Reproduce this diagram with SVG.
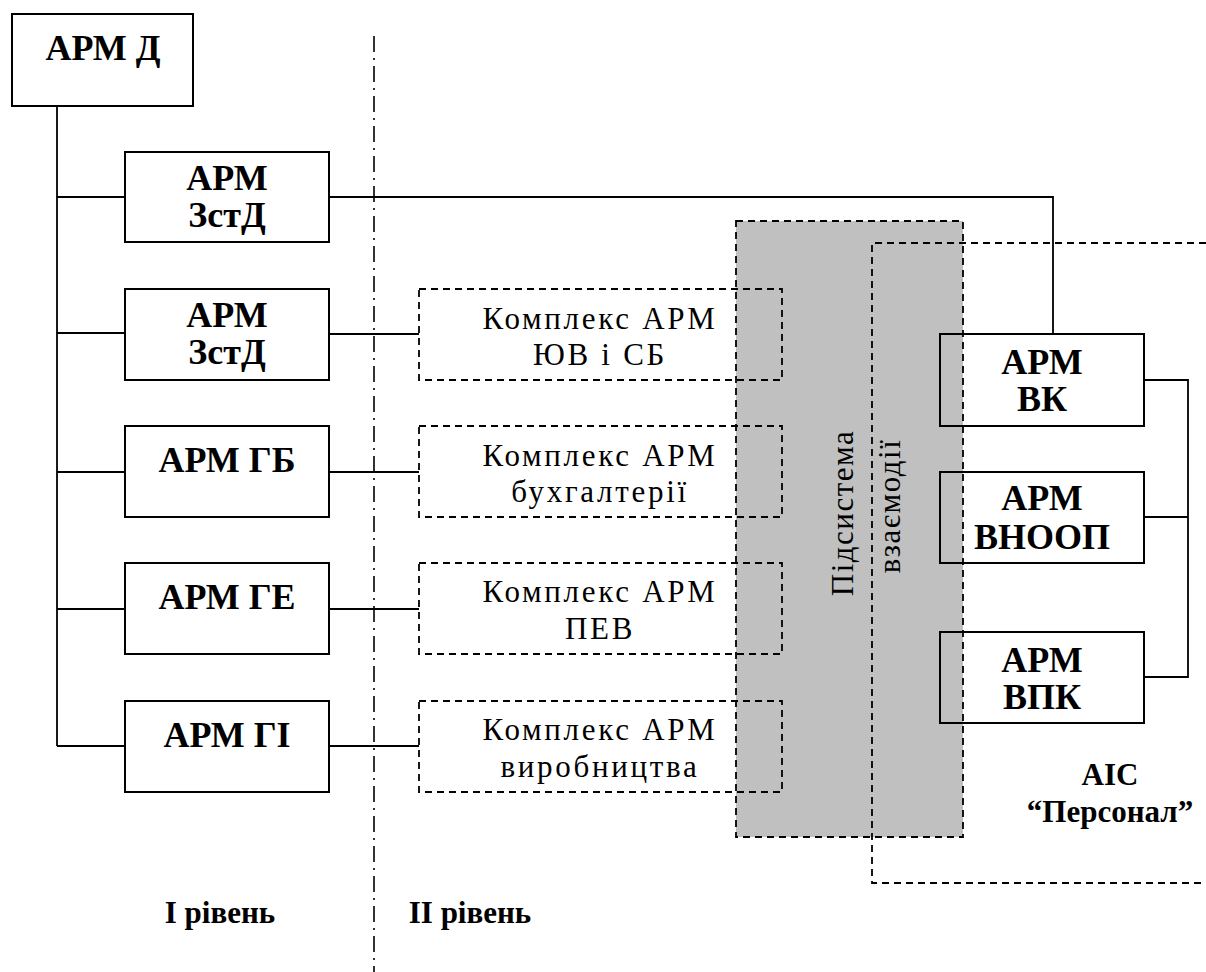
<svg xmlns="http://www.w3.org/2000/svg" width="1206" height="972" viewBox="0 0 1206 972">
<style>
.box{fill:none;stroke:#000;stroke-width:2}
.dbox{fill:none;stroke:#000;stroke-width:1.8;stroke-dasharray:7 5}
.ln{fill:none;stroke:#000;stroke-width:1.8}
text{font-family:"Liberation Serif","DejaVu Serif","Noto Serif",serif;fill:#000;text-anchor:middle}
.b{font-weight:bold;font-size:36px}
.lb{font-weight:bold;font-size:31px}
.r{font-size:31px;letter-spacing:2.7px}
.v{font-size:31px;letter-spacing:1.5px}
</style>
<rect width="1206" height="972" fill="#fff"/>
<g id="subsystem">
<rect x="736" y="221" width="227" height="616" fill="#c0c0c0" stroke="#000" stroke-width="1.8" stroke-dasharray="7 5"/>
<text class="v" transform="translate(853,513) rotate(-90)">Підсистема</text>
<text class="v" transform="translate(900,506) rotate(-90)">взаємодії</text>
</g>
<g id="ais-personal">
<path class="dbox" d="M1206,243 H872 V883 H1206"/>
<text class="lb" x="1110" y="785">АІС</text>
<text class="lb" x="1110" y="822">“Персонал”</text>
</g>
<g id="level-divider">
<line x1="374" y1="36" x2="374" y2="972" stroke="#000" stroke-width="1.6" stroke-dasharray="16 6 2 6"/>
</g>
<g id="connectors">
<path class="ln" d="M57,106 V746"/>
<path class="ln" d="M57,197 H125 M57,333 H125 M57,472 H125 M57,609 H125 M57,746 H125"/>
<path class="ln" d="M329,197 H1053 V334"/>
<path class="ln" d="M329,334 H419 M329,472 H419 M329,609 H419 M329,746 H419"/>
<path class="ln" d="M1144,380 H1188 V677 H1144 M1144,517 H1188"/>
</g>
<g id="arm-d">
<rect class="box" x="12" y="14" width="181" height="92"/>
<text class="b" x="103" y="60">АРМ Д</text>
</g>
<g id="arm-zstd1">
<rect class="box" x="125" y="152" width="204" height="90"/>
<text class="b" x="227" y="190">АРМ</text>
<text class="b" x="227" y="227">ЗстД</text>
</g>
<g id="arm-zstd2">
<rect class="box" x="125" y="289" width="204" height="91"/>
<text class="b" x="227" y="327">АРМ</text>
<text class="b" x="227" y="364">ЗстД</text>
</g>
<g id="arm-gb">
<rect class="box" x="125" y="426" width="204" height="91"/>
<text class="b" x="227" y="472">АРМ ГБ</text>
</g>
<g id="arm-ge">
<rect class="box" x="125" y="563" width="204" height="91"/>
<text class="b" x="227" y="609">АРМ ГЕ</text>
</g>
<g id="arm-gi">
<rect class="box" x="125" y="701" width="204" height="91"/>
<text class="b" x="227" y="747">АРМ ГІ</text>
</g>
<g id="k-yuv">
<rect class="dbox" x="419" y="289" width="363" height="91"/>
<text class="r" x="600" y="329">Комплекс АРМ</text>
<text class="r" x="600" y="365">ЮВ і СБ</text>
</g>
<g id="k-buh">
<rect class="dbox" x="419" y="426" width="363" height="91"/>
<text class="r" x="600" y="466">Комплекс АРМ</text>
<text class="r" x="600" y="502">бухгалтерії</text>
</g>
<g id="k-pev">
<rect class="dbox" x="419" y="563" width="363" height="91"/>
<text class="r" x="600" y="602">Комплекс АРМ</text>
<text class="r" x="600" y="639">ПЕВ</text>
</g>
<g id="k-vyr">
<rect class="dbox" x="419" y="701" width="363" height="91"/>
<text class="r" x="600" y="740">Комплекс АРМ</text>
<text class="r" x="600" y="777">виробництва</text>
</g>
<g id="arm-vk">
<rect class="box" x="940" y="334" width="204" height="92"/>
<text class="b" x="1042" y="374">АРМ</text>
<text class="b" x="1042" y="411">ВК</text>
</g>
<g id="arm-vnoop">
<rect class="box" x="940" y="472" width="204" height="91"/>
<text class="b" x="1042" y="510">АРМ</text>
<text class="b" x="1042" y="549">ВНООП</text>
</g>
<g id="arm-vpk">
<rect class="box" x="940" y="632" width="204" height="91"/>
<text class="b" x="1042" y="672">АРМ</text>
<text class="b" x="1042" y="709">ВПК</text>
</g>
<g id="levels">
<text class="lb" x="220" y="923">І рівень</text>
<text class="lb" x="470" y="923">ІІ рівень</text>
</g>
</svg>
